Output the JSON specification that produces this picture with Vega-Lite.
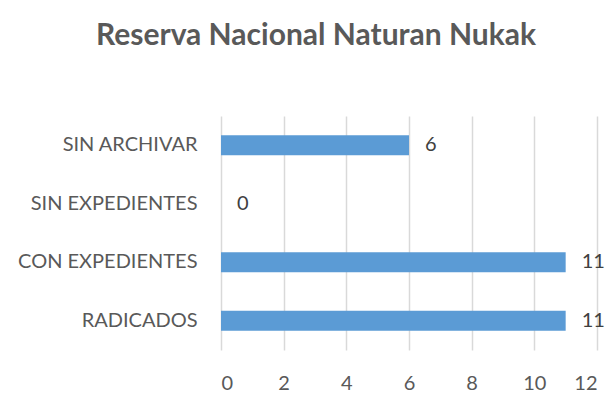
{
  "$schema": "https://vega.github.io/schema/vega-lite/v6.json",
  "autosize": "none",
  "width": 376,
  "height": 234,
  "padding": {"left": 221, "top": 116, "right": 15, "bottom": 60},
  "background": "white",
  "title": {
    "text": "Reserva Nacional Naturan Nukak",
    "font": "Lato",
    "fontSize": 30,
    "fontWeight": "bold",
    "color": "#595959",
    "anchor": "middle",
    "dx": -93,
    "offset": 65
  },
  "data": {
    "values": [
      {"categoria": "SIN ARCHIVAR", "valor": 6},
      {"categoria": "SIN EXPEDIENTES", "valor": 0},
      {"categoria": "CON EXPEDIENTES", "valor": 11},
      {"categoria": "RADICADOS", "valor": 11}
    ]
  },
  "encoding": {
    "y": {
      "field": "categoria",
      "type": "nominal",
      "sort": null,
      "scale": {"paddingInner": 0.66, "paddingOuter": 0.33},
      "axis": {
        "title": null,
        "ticks": false,
        "domain": false,
        "labelFont": "Lato",
        "labelFontSize": 20,
        "labelColor": "#595959",
        "labelPadding": 24
      }
    },
    "x": {
      "field": "valor",
      "type": "quantitative",
      "scale": {"domain": [0, 12], "nice": false},
      "axis": {
        "title": null,
        "values": [0, 2, 4, 6, 8, 10, 12],
        "ticks": false,
        "domain": false,
        "grid": true,
        "gridColor": "#d9d9d9",
        "gridWidth": 1.5,
        "labelFont": "Lato",
        "labelFontSize": 20,
        "labelColor": "#595959",
        "labelPadding": 23
      }
    }
  },
  "layer": [
    {"mark": {"type": "bar", "color": "#5b9bd5"}},
    {
      "mark": {"type": "text", "align": "left", "dx": 16, "font": "Lato", "fontSize": 20, "color": "#404040"},
      "encoding": {"text": {"field": "valor", "type": "quantitative"}}
    }
  ],
  "config": {"view": {"stroke": null}}
}
